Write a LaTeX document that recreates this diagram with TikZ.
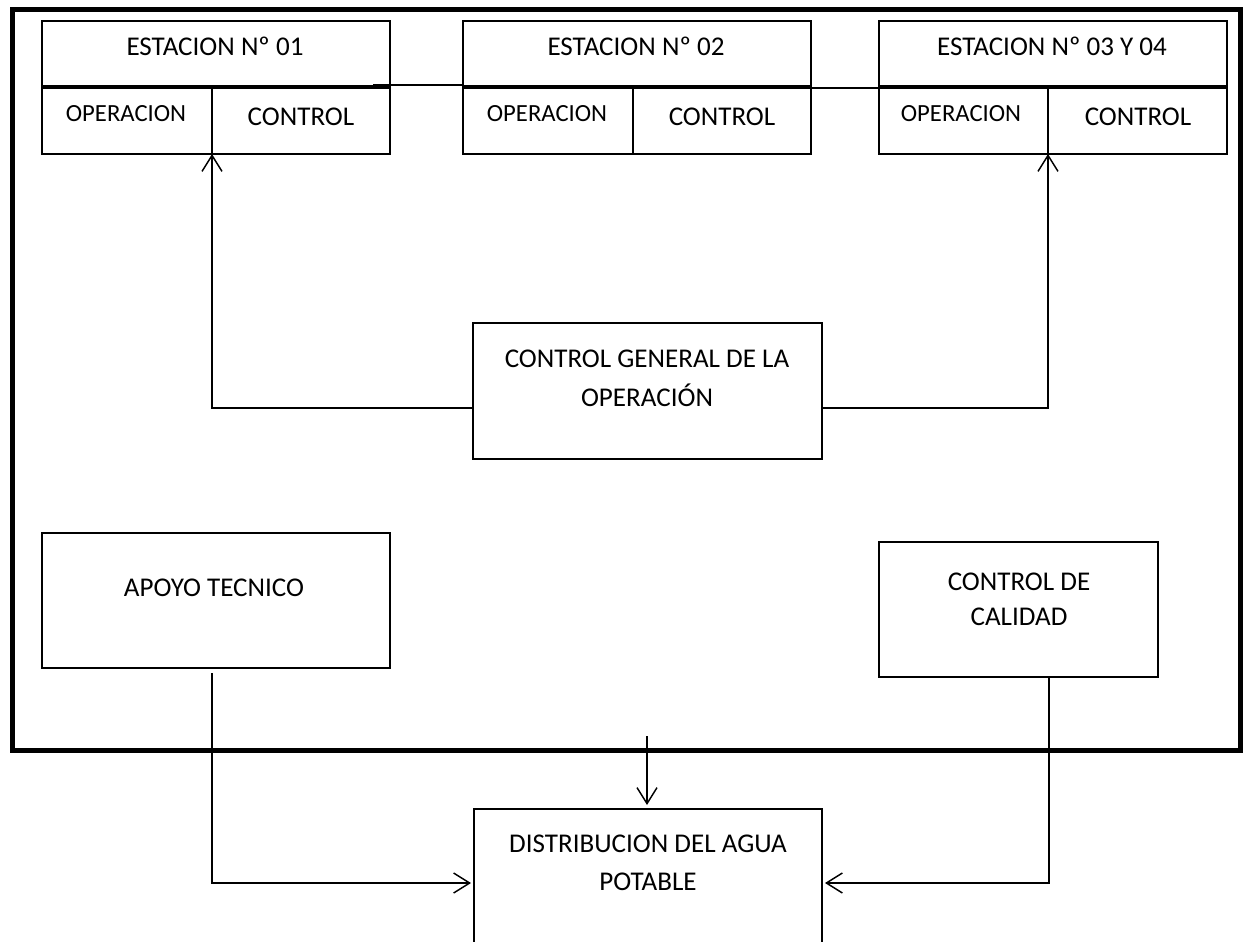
\documentclass[tikz,border=0pt]{standalone}
\usepackage{fontspec}
\setmainfont{Carlito}
\usetikzlibrary{arrows.meta,calc}
\tikzset{
  box/.style={draw, line width=1.4pt, inner sep=0pt, outer sep=0pt, minimum width=261pt},
  cell/.style={draw, line width=1.4pt, inner sep=0pt, outer sep=0pt, minimum height=50.25pt},
  txt/.style={font=\fontsize{20.3}{24}\selectfont, inner sep=0pt, anchor=base},
  smalltxt/.style={font=\fontsize{18.5}{22}\selectfont, inner sep=0pt, anchor=base},
  conn/.style={line width=1.1pt},
  arr/.style={line width=1.1pt, -{Straight Barb[length=12pt,width=15pt,line width=1.1pt]}},
  divider/.style={line width=2.3pt},
  frameline/.style={line width=3.75pt}
}
\begin{document}
\begin{tikzpicture}[x=0.75pt,y=-0.75pt]
\useasboundingbox[fill=white] (0,0) rectangle (1246,942);
% outer frame
\draw[frameline] (12,10) rectangle (1240,750);

% station 1
\node[box, minimum height=49.5pt] (s1h) at (216,54) {};
\node[cell, minimum width=127.5pt] (s1o) at (127,120.5) {};
\node[cell, minimum width=133.5pt] (s1c) at (301,120.5) {};
% station 2
\node[box, minimum height=49.5pt] (s2h) at (637,54) {};
\node[cell, minimum width=127.5pt] (s2o) at (548,120.5) {};
\node[cell, minimum width=133.5pt] (s2c) at (722,120.5) {};
% station 3
\node[box, minimum height=49.5pt] (s3h) at (1053,54) {};
\node[cell, minimum width=126.75pt] (s3o) at (963.5,120.5) {};
\node[cell, minimum width=134.25pt] (s3c) at (1137.5,120.5) {};

\draw[divider] (s1h.south west) -- (s1h.south east);
\draw[divider] (s2h.south west) -- (s2h.south east);
\draw[divider] (s3h.south west) -- (s3h.south east);

% station texts
\node[txt] (t1h) at (215,56) {ESTACION Nº 01};
\node[txt] (t2h) at (636,56) {ESTACION Nº 02};
\node[txt] (t3h) at (1052,56) {ESTACION Nº 03 Y 04};
\node[smalltxt] (t1o) at (126,122) {OPERACION};
\node[smalltxt] (t2o) at (547,122) {OPERACION};
\node[smalltxt] (t3o) at (961,122) {OPERACION};
\node[txt] (t1c) at (301,125) {CONTROL};
\node[txt] (t2c) at (722,125) {CONTROL};
\node[txt] (t3c) at (1138,125) {CONTROL};

% links between stations
\draw[conn] ($(s1h.south east)+(-17,-2)$) -- ($(s2h.south west)+(0,-2)$);
\draw[conn] ($(s2h.south east)+(-11,1)$) -- ($(s3h.south west)+(9,1)$);

% control general
\node[box, minimum width=261.75pt, minimum height=102pt] (cgo) at (647.5,391) {};
\node[txt] (tcgo1) at (647,367) {CONTROL GENERAL DE LA};
\node[txt] (tcgo2) at (647,406) {OPERACIÓN};
\coordinate (cgoL) at ($(cgo.west)+(0,17)$);
\coordinate (cgoR) at ($(cgo.east)+(0,17)$);
\draw[arr] (cgoL) -| (s1o.south east);
\draw[arr] (cgoR) -| (s3o.south east);

% apoyo tecnico
\node[box, minimum height=101.25pt] (apoyo) at (216,600.5) {};
\node[txt] (tapoyo) at (214,596) {APOYO TECNICO};

% control de calidad
\node[box, minimum width=209.25pt, minimum height=101.25pt] (calidad) at (1018.5,609.5) {};
\node[txt] (tcal1) at (1019,590) {CONTROL DE};
\node[txt] (tcal2) at (1019,625) {CALIDAD};

% distribucion (open at the bottom edge of the picture)
\node[inner sep=0pt, outer sep=0pt, minimum width=261pt, minimum height=99.75pt] (dist) at (648,875.5) {};
\draw[line width=1.4pt] (dist.south west) -- (dist.north west) -- (dist.north east) -- (dist.south east);
\node[txt] (tdist1) at (648,852) {DISTRIBUCION DEL AGUA};
\node[txt] (tdist2) at (648,890) {POTABLE};

% connectors to distribucion
\coordinate (dtop) at (647,736);
\draw[arr] (dtop) -- ($(dist.north)+(-1,-4)$);
\draw[arr] ($(apoyo.south)+(-4,5)$) |- ($(dist.north west)+(-3,74)$);
\draw[arr] ($(calidad.south)+(30.5,0)$) |- ($(dist.north east)+(3,74)$);
\end{tikzpicture}
\end{document}
